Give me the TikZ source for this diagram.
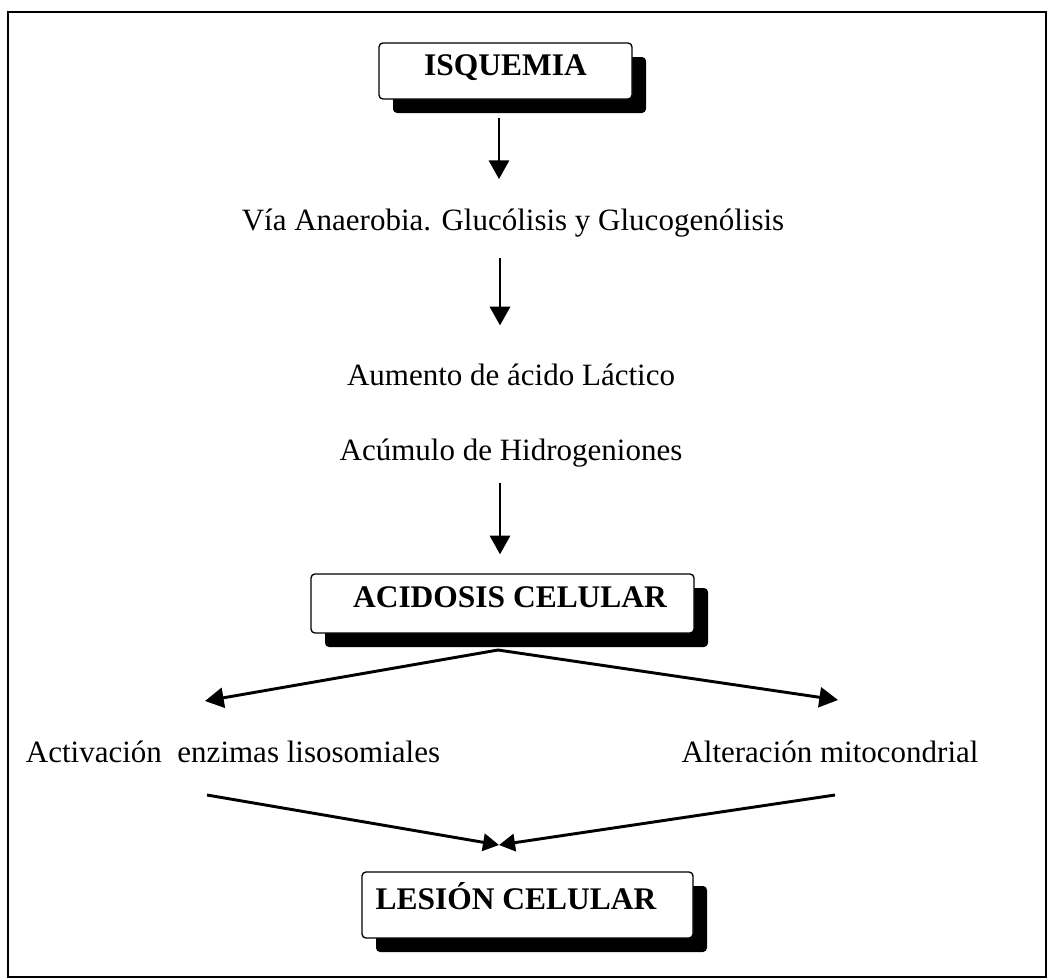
\documentclass[tikz,border=0pt]{standalone}
\usepackage{fontspec}
\setmainfont{Liberation Serif}
\usetikzlibrary{arrows.meta,shadows}

\tikzset{
  box/.style={draw=black, line width=1pt, fill=white, rounded corners=3pt,
    font=\fontsize{23.6pt}{28pt}\selectfont\bfseries,
    text height=0.66em, text depth=0pt, inner sep=0pt,
    drop shadow={shadow xshift=10.5pt, shadow yshift=-10.5pt, fill=black, opacity=1}},
  lbl/.style={font=\fontsize{23.25pt}{28pt}\selectfont, inner sep=0pt,
    text height=0.7em, text depth=0.25em, anchor=base},
  arr/.style={line width=2.2pt, -{Triangle[width=15pt,length=14pt]}},
  merge/.style={line width=2.2pt, -{Triangle[width=13pt,length=12pt]}},
}

\begin{document}
\begin{tikzpicture}[x=0.75pt, y=-0.75pt]
  \useasboundingbox (0,0) rectangle (1049,978);
  % outer frame
  \draw[line width=1.4pt] (8,12) rectangle (1046,977);

  % boxed stages
  \node[box, minimum width=189.75pt, minimum height=42pt] (isq) at (505.5,71) {ISQUEMIA};
  \node[box, minimum width=287.25pt, minimum height=44.25pt] (aci) at (502.5,603.5) {\hspace*{11.25pt}ACIDOSIS CELULAR};
  \node[box, minimum width=248.25pt, minimum height=49.5pt] (les) at (527.5,905) {LESIÓN CELULAR\hspace*{17.25pt}};

  % plain text stages
  \node[lbl] (via) at (513,230) {Vía Anaerobia. Glucólisis y Glucogenólisis};
  \node[lbl] (aum) at (511,385) {Aumento de ácido Láctico};
  \node[lbl] (acu) at (511,460) {Acúmulo de Hidrogeniones};
  \node[lbl] (act) at (233,762) {Activación\ \ enzimas lisosomiales};
  \node[lbl] (alt) at (830,762) {Alteración mitocondrial};

  % vertical axis of the straight arrows
  \coordinate (ax1) at (499,0);
  \coordinate (ax2) at (500,0);

  \draw[arr, shorten <=13.5pt, shorten >=31pt] (isq.south -| ax1) -- (via.north -| ax1);
  \draw[arr, shorten <=18pt, shorten >=37.5pt] (via.south -| ax2) -- (aum.north -| ax2);
  \draw[arr, shorten <=14.25pt, shorten >=14.25pt] (acu.south -| ax2) -- (aci.north -| ax2);

  % branching below the acidosis box
  \coordinate (apex) at (498,650);
  \coordinate (tipL) at (205,701);
  \coordinate (tipR) at (838,700);
  \draw[arr] (apex) -- (tipL);
  \draw[arr] (apex) -- (tipR);

  % merging towards the cell injury box
  \coordinate (fromL) at (207,795);
  \coordinate (fromR) at (835,795);
  \coordinate (meet) at (499,845);
  \draw[merge] (fromL) -- (meet);
  \draw[merge] (fromR) -- (meet);
\end{tikzpicture}
\end{document}
